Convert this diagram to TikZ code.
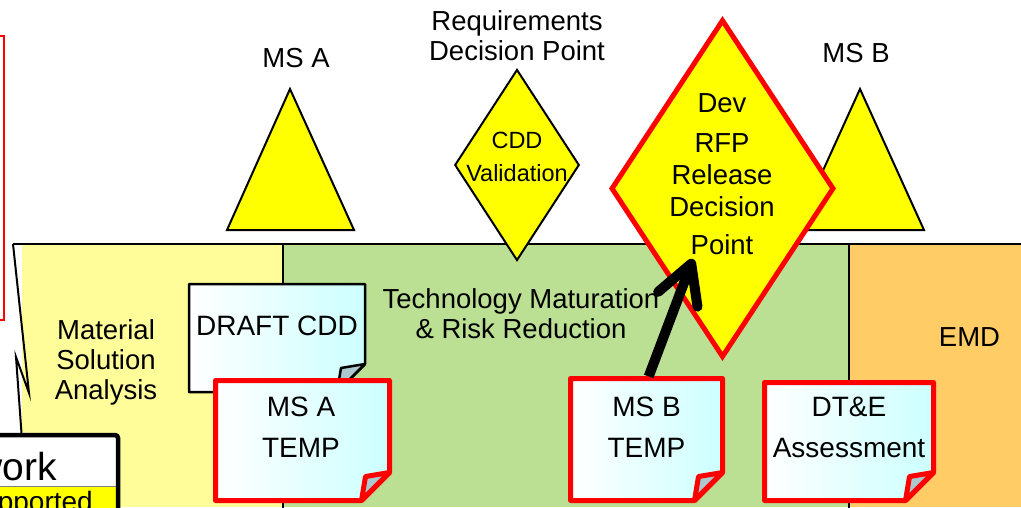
\documentclass[tikz,border=0pt]{standalone}
\usepackage{fontspec}
\setmainfont{Liberation Sans}
\usetikzlibrary{shapes.geometric,arrows.meta}
\definecolor{msay}{RGB}{255,253,153}
\definecolor{tmrrg}{RGB}{187,224,147}
\definecolor{emdo}{RGB}{255,204,102}
\definecolor{msy}{RGB}{255,255,0}
\definecolor{notecyan}{RGB}{204,255,255}
\definecolor{flapc}{RGB}{170,200,205}
\tikzset{
  lbl/.style={font=\fontsize{27.5}{30}\selectfont, align=center, inner sep=0pt, anchor=north},
  notelbl/.style={font=\fontsize{28}{41}\selectfont, align=center, inner sep=0pt, anchor=north},
  notefill/.style={left color=white, right color=notecyan, line join=round},
  redborder/.style={draw=red, line width=5pt},
  blackborder/.style={draw=black, line width=2.5pt},
  milestone/.style={draw=black, line width=2pt, fill=msy},
  decision/.style={diamond, fill=msy, inner sep=0pt},
  bigarrow/.style={line width=10pt, -{Straight Barb[length=38pt,width=42pt,round]}}
}
\newcommand\notebox[6]{%
  \shadedraw[notefill,#6] (#2,#3) -- (#4,#3) -- (#4,{#5-28}) -- ({#4-28},#5) -- (#2,#5) -- cycle;
  \filldraw[fill=flapc,line join=round,#6] (#4,{#5-28}) -- ({#4-24},{#5-24}) -- ({#4-28},#5) -- cycle;
  \node[inner sep=0pt, minimum width={#4-#2}, minimum height={#5-#3}] (#1) at ({(#2+#4)/2},{(#3+#5)/2}) {};
}
\begin{document}
\begin{tikzpicture}[x=1pt,y=-1pt]
\useasboundingbox (0,0) rectangle (1021,507);
% phase backgrounds
\fill[msay] (22,244) rectangle (283,507);
\fill[tmrrg] (283,244) rectangle (849,507);
\fill[emdo] (849,244) rectangle (1021,507);
\draw[line width=2pt] (13,244) -- (1030,244);
\draw[line width=2.5pt] (283,244) -- (283,510);
\draw[line width=2.5pt] (849,244) -- (849,510);
\draw[line width=2pt] (13,244) -- (29,393) -- (16,357) -- (22,440);
% phase labels
\node[lbl] (msalabel) at (106,319) {Material\\Solution\\Analysis};
\node[lbl] (tmrrlabel) at (521,288) {Technology Maturation\\\& Risk Reduction};
\node[lbl] (emdlabel) at (969.5,327) {EMD};
% milestones
\draw[milestone] (290,89) -- (354,230) -- (227,230) -- cycle;
\node[lbl] (msalbl) at (296,48) {MS A};
\draw[milestone] (860,89) -- (924,230) -- (796,230) -- cycle;
\node[lbl] (msblbl) at (856,43) {MS B};
% decision points
\node[decision, draw=black, line width=2pt, minimum width=124.5pt, minimum height=191pt] (cdd) at (517,165) {};
\node[lbl, font=\fontsize{23.5}{33}\selectfont] (cddtxt) at (517,132) {CDD\\Validation};
\node[lbl] (rdplabel) at (517,10) {Requirements\\Decision Point};
\node[decision, draw=red, line width=5pt, minimum width=223pt, minimum height=338pt] (dev) at (722.5,188.5) {};
\node[lbl, font=\fontsize{27.5}{32}\selectfont] (devtxt) at (722,93) {Dev\\[8pt]RFP\\Release\\Decision\\[6pt]Point};
% notes
\notebox{draftcdd}{189}{284}{365}{392}{blackborder}
\node[notelbl] (draftcddtxt) at (277,316) {DRAFT CDD};
\notebox{msatemp}{215.5}{380.5}{389.5}{500.5}{redborder}
\node[notelbl] (msatemptxt) at (301,397) {MS A\\TEMP};
\notebox{msbtemp}{570.5}{378.5}{722.5}{500.5}{redborder}
\node[notelbl] (msbtemptxt) at (646.5,397) {MS B\\TEMP};
\notebox{dte}{764.5}{382.5}{933.5}{500.5}{redborder}
\node[notelbl] (dtetxt) at (849,397) {DT\&E\\Assessment};
% arrow
\draw[bigarrow, shorten <=2pt] ([xshift=1.5pt]msbtemp.north) -- ([shift={(-29.5,70.5)}]dev.center);
% framework box (cut off)
\fill[white] (-20,435) rectangle (118,530);
\filldraw[fill=msy, draw=black!50, line width=0.8pt] (-20,486.5) rectangle (117,530);
\draw[line width=4.5pt, rounded corners=3pt] (-20,435) -- (118,435) -- (118,530);
\node[font=\fontsize{39}{40}\selectfont, anchor=base east, inner sep=0pt] (work) at (57,480) {work};
\node[font=\fontsize{28}{30}\selectfont, anchor=base east, inner sep=0pt] (pported) at (93,511) {pported};
% red frame at left edge
\draw[red, line width=2.3pt] (-10,36) rectangle (3.8,320);
\end{tikzpicture}
\end{document}
